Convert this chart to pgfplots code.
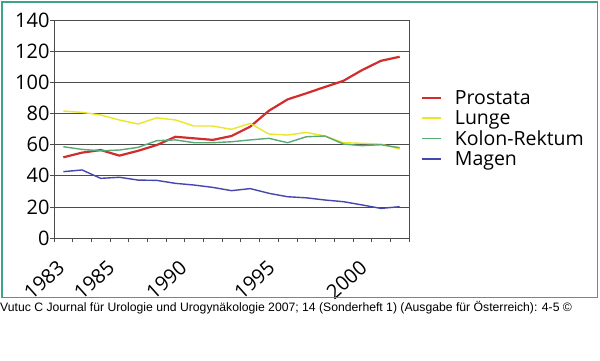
\documentclass[border=0pt]{standalone}
\usepackage{fontspec}
\setmainfont{Open Sans}
\newfontfamily\footfont{Liberation Sans}
\usepackage{pgfplots}
\pgfplotsset{compat=1.18}
\definecolor{cred}{RGB}{210,45,45}
\definecolor{cyel}{RGB}{235,230,40}
\definecolor{cgrn}{RGB}{90,170,120}
\definecolor{cblu}{RGB}{70,70,175}
\begin{document}
\begin{tikzpicture}[x=1pt,y=1pt]
\useasboundingbox (0,0) rectangle (600,361);
\fill[white] (0,0) rectangle (600,361);
\node[anchor=base west, font=\footfont\fontsize{12.2}{14}\selectfont, inner sep=0pt] at (0,49) {Vutuc C Journal für Urologie und Urogynäkologie 2007; 14 (Sonderheft 1) (Ausgabe für Österreich): 4-5 ©};
\begin{axis}[at={(54pt,123pt)}, anchor=south west, scale only axis, width=355pt, height=218pt,
 xmin=-0.5, xmax=18.5, ymin=0, ymax=140,
 ytick={0,20,...,140}, ymajorgrids, grid style={gray!60!black, line width=0.7pt},
 xtick={-0.5,0.5,...,18.5}, xticklabels={},
 extra x ticks={0.09,2.77,6.63,11.35,16.28}, extra x tick labels={1983,1985,1990,1995,2000},
 extra x tick style={major tick length=0pt, grid=none, xticklabel style={rotate=42, anchor=north east, inner sep=0pt, xshift=-20.5pt, yshift=-9.5pt}},
 xtick pos=bottom, ytick pos=left, tick align=outside, major tick length=4pt,
 tick style={gray!60!black, line width=0.7pt},
 axis line style={gray!60!black, line width=0.7pt},
 /pgf/number format/assume math mode=true,
 tick label style={font=\fontsize{20}{22}\selectfont},
 yticklabel style={xshift=3pt},
 legend style={draw=none, fill=none, at={(1.0,0.685)}, anchor=north west, font=\fontsize{19.5}{21}\selectfont, row sep=1.6pt, inner sep=0pt, nodes={inner sep=1.5pt}},
 legend cell align=left,
 legend image code/.code={\draw[#1] (12pt,0pt) -- (31pt,0pt); \path (0pt,0pt) (42pt,0pt);},
]
\addplot[cred, line width=2.2pt] coordinates {(0,51.8)(1,54.8)(2,56.5)(3,52.9)(4,56)(5,59.7)(6,65)(7,64)(8,63)(9,65.5)(10,71.5)(11,81.7)(12,89)(13,92.9)(14,97)(15,101)(16,107.9)(17,113.8)(18,116.4)};
\addlegendentry{Prostata}
\addplot[cyel, line width=1.4pt] coordinates {(0,81.5)(1,80.7)(2,79)(3,75.8)(4,73.2)(5,77.2)(6,75.8)(7,71.9)(8,71.9)(9,69.8)(10,73.6)(11,66.8)(12,66.1)(13,67.8)(14,65.5)(15,61.2)(16,60.8)(17,60.3)(18,57.1)};
\addlegendentry{Lunge}
\addplot[cgrn, line width=1.4pt] coordinates {(0,58.6)(1,56.9)(2,56)(3,56.5)(4,58.2)(5,62.5)(6,63)(7,61.2)(8,61.2)(9,61.8)(10,63)(11,64)(12,61.2)(13,65)(14,65.5)(15,60.3)(16,59.3)(17,59.9)(18,58)};
\addlegendentry{Kolon-Rektum}
\addplot[cblu, line width=1.4pt] coordinates {(0,42.6)(1,43.7)(2,38.3)(3,39)(4,37.2)(5,37)(6,35.1)(7,34)(8,32.5)(9,30.4)(10,31.7)(11,28.7)(12,26.5)(13,25.8)(14,24.4)(15,23.3)(16,21.2)(17,19)(18,20.1)};
\addlegendentry{Magen}
\end{axis}
\draw[color={rgb,255:red,60;green,165;blue,135}, line width=1.5pt] (2,63.5) rectangle (597.5,359);
\end{tikzpicture}
\end{document}
